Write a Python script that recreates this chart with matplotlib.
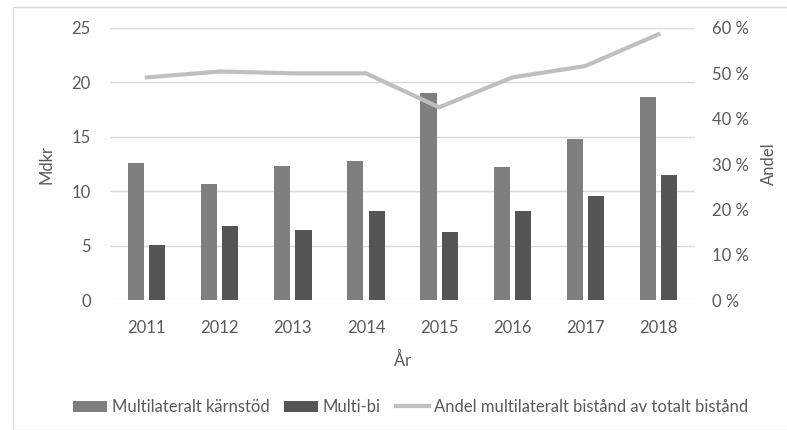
import numpy as np
import matplotlib.pyplot as plt
from matplotlib.ticker import FuncFormatter

years = ['2011', '2012', '2013', '2014', '2015', '2016', '2017', '2018']
karnstod = [12.6, 10.7, 12.3, 12.8, 19.0, 12.2, 14.8, 18.7]
multibi = [5.1, 6.8, 6.4, 8.2, 6.3, 8.2, 9.6, 11.5]
andel = [49.1, 50.4, 50.0, 50.0, 42.5, 49.1, 51.6, 58.6]

plt.rcParams['font.family'] = ['Lato', 'DejaVu Sans']
txt = '#595959'

fig = plt.figure(figsize=(7.87, 4.30), dpi=100)
# ram runt diagrammet
fig.patches.append(plt.Rectangle((13/787, 0.0), 1.0, 1-7/430, transform=fig.transFigure,
                                 fill=False, edgecolor='#d9d9d9', lw=1))
ax = fig.add_axes([0.14, 0.302, 0.743, 0.633])
x = np.arange(len(years))
w = 0.22
b1 = ax.bar(x-0.145, karnstod, w, color='#7f7f7f', label='Multilateralt kärnstöd', zorder=2)
b2 = ax.bar(x+0.145, multibi, w, color='#555555', label='Multi-bi', zorder=2)
ax.set_ylim(0, 25)
ax.set_yticks(range(0, 26, 5))
ax.set_xlim(-0.5, 7.5)
ax.set_xticks(x)
ax.set_xticklabels(years)
ax.grid(axis='y', color='#d9d9d9', lw=1, zorder=0)
ax.set_ylabel('Mdkr', color=txt, fontsize=12, labelpad=12)
ax.set_xlabel('År', color=txt, fontsize=12, labelpad=12)
for s in ax.spines.values():
    s.set_visible(False)
ax.tick_params(length=0, colors=txt, labelsize=12, pad=14)
ax.tick_params(axis='y', pad=14)

ax2 = ax.twinx()
l1, = ax2.plot(x, andel, color='#bfbfbf', lw=3, label='Andel multilateralt bistånd av totalt bistånd', zorder=3)
ax2.set_ylim(0, 60)
ax2.set_yticks(range(0, 61, 10))
ax2.yaxis.set_major_formatter(FuncFormatter(lambda v, p: '%d %%' % v))
ax2.set_ylabel('Andel', color=txt, fontsize=12, labelpad=9)
for s in ax2.spines.values():
    s.set_visible(False)
ax2.tick_params(length=0, colors=txt, labelsize=12, pad=12)

fig.legend(handles=[b1, b2, l1], loc='center', bbox_to_anchor=(0.522, 0.053), ncol=3,
           frameon=False, fontsize=12, labelcolor=txt, handlelength=2.0, handletextpad=0.3,
           columnspacing=0.9)

plt.savefig('out.png', dpi=100)
